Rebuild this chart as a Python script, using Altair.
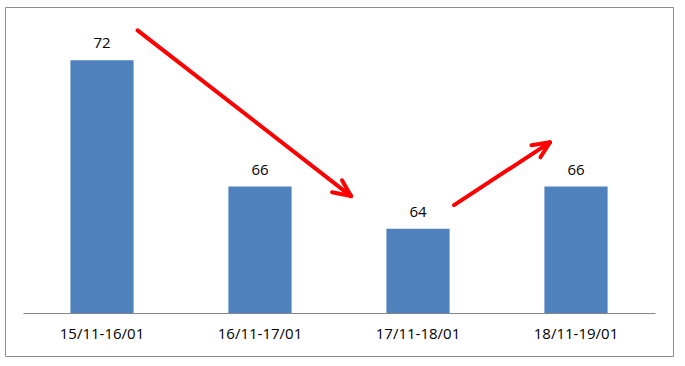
import altair as alt
import pandas as pd

# Bar data
categories = ["15/11-16/01", "16/11-17/01", "17/11-18/01", "18/11-19/01"]
values = [72, 66, 64, 66]

# Arrow annotation segments in data units (x: category index units 0..4, y: value units)
seg_x = [0.725, 2.076, 2.076, 2.728, 3.335, 3.335]
seg_y = [73.41, 65.55, 65.55, 65.12, 68.10, 68.10]
seg_x2 = [2.076, 2.019, 1.956, 3.335, 3.218, 3.275]
seg_y2 = [65.55, 66.30, 65.73, 68.10, 67.96, 67.39]

bars_df = pd.DataFrame({"period": categories, "value": values})
seg_df = pd.DataFrame({"x": seg_x, "y": seg_y, "x2": seg_x2, "y2": seg_y2})

FONT = "Open Sans"
y_scale = alt.Scale(domain=[60, 74], zero=False, nice=False)
x_band = alt.Scale(paddingInner=0.6, paddingOuter=0.3)

bars = alt.Chart(bars_df).mark_bar(color="#4F81BD").encode(
    x=alt.X("period:N", sort=categories, scale=x_band,
            axis=alt.Axis(title=None, labelAngle=0, ticks=False, domainColor="#868686",
                          domainWidth=1, labelFont=FONT, labelFontSize=15,
                          labelColor="#000000", labelPadding=13, grid=False)),
    y=alt.Y("value:Q", scale=y_scale, axis=None),
    y2=alt.datum(60),
)

text = alt.Chart(bars_df).mark_text(dy=-17, baseline="middle", font=FONT,
                                    fontSize=15, color="#000000").encode(
    x=alt.X("period:N", sort=categories, scale=x_band, axis=None),
    y=alt.Y("value:Q", scale=y_scale, axis=None),
    text=alt.Text("value:Q"),
)

arrows = alt.Chart(seg_df).mark_rule(color="#FF0000", strokeWidth=4, strokeCap="round").encode(
    x=alt.X("x:Q", scale=alt.Scale(domain=[0, 4], nice=False, zero=False), axis=None),
    x2="x2:Q",
    y=alt.Y("y:Q", scale=y_scale, axis=None),
    y2="y2:Q",
)

border = alt.Chart(pd.DataFrame({"a": [0]})).mark_rect(
    fillOpacity=0, stroke="#8C8C8C", strokeWidth=1
).encode(
    x=alt.value(-17.5), x2=alt.value(650.5), y=alt.value(-10.5), y2=alt.value(338.5)
)

chart = alt.layer(bars, text, arrows, border).resolve_scale(x="independent").properties(
    width=632, height=295,
    autosize=alt.AutoSizeParams(type="none"),
    padding={"left": 23, "top": 18, "right": 30, "bottom": 53},
    background="#FFFFFF",
).configure_view(stroke=None)

chart.save("out.html", embed_options={"renderer": "svg", "actions": False})
